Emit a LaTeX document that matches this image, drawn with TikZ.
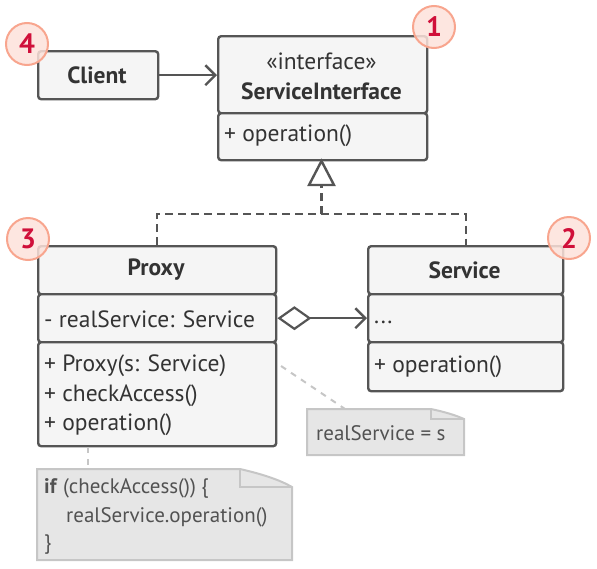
\documentclass[tikz,border=0pt]{standalone}
\usepackage{fontspec}
\setmainfont{PT Sans}
\usetikzlibrary{arrows.meta,positioning}
\definecolor{boxc}{HTML}{555555}
\definecolor{boxfill}{HTML}{F5F5F5}
\definecolor{txt}{HTML}{333333}
\definecolor{notefill}{HTML}{E6E6E6}
\definecolor{notec}{HTML}{C6C6C6}
\definecolor{badgefill}{HTML}{FDE2DA}
\definecolor{badgec}{HTML}{F8A58E}
\definecolor{badgetxt}{HTML}{D0103A}
\tikzset{
  sect/.style={draw=boxc, fill=boxfill, line width=2.4pt, rounded corners=3pt, inner sep=0pt},
  lbl/.style={inner sep=0pt, text=txt, font=\fontsize{23.5}{27}\selectfont},
  lbll/.style={lbl, anchor=west},
  title/.style={lbl, font=\fontsize{23.5}{27}\selectfont\bfseries},
  notetxt/.style={inner sep=0pt, anchor=west, text=txt!85, font=\fontsize{21}{25}\selectfont},
  conn/.style={draw=boxc, line width=2.4pt},
  dashline/.style={conn, dash pattern=on 8pt off 5pt},
  notebox/.style={draw=notec, fill=notefill, line width=2pt},
  notelink/.style={draw=notec, line width=2pt, dash pattern=on 6pt off 6pt},
  badge/.style={circle, draw=badgec, fill=badgefill, fill opacity=0.85, text opacity=1, line width=2pt, minimum size=42pt, inner sep=0pt, text=badgetxt, font=\fontsize{28}{32}\selectfont\bfseries},
}
\begin{document}
\begin{tikzpicture}[x=1pt,y=-1pt]
\useasboundingbox (0,0) rectangle (597,568);
% ServiceInterface
\node[sect, minimum width=209pt, minimum height=77pt, anchor=north west] (siH) at (217,35) {};
\node[sect, minimum width=209pt, minimum height=47pt, anchor=north west] (siB) at (217,112) {};
\node[lbl] (siS) at (321.5,61) {«interface»};
\node[title] (siT) at (321.5,91) {ServiceInterface};
\node[lbll] (siOp) at (224,136) {+ operation()};
% Client
\node[sect, minimum width=120pt, minimum height=48pt, anchor=north west] (client) at (37,50) {};
\node[title] (clientT) at (97,75) {Client};
% Proxy
\node[sect, minimum width=238pt, minimum height=48pt, anchor=north west] (pH) at (37,245) {};
\node[sect, minimum width=238pt, minimum height=48pt, anchor=north west] (pA) at (37,293) {};
\node[sect, minimum width=238pt, minimum height=104pt, anchor=north west] (pM) at (37,341) {};
\node[title] (pT) at (156,270) {Proxy};
\node[lbll] (pA1) at (44,319) {- realService: Service};
\node[lbll] (pM1) at (44,366) {+ Proxy(s: Service)};
\node[lbll] (pM2) at (44,396) {+ checkAccess()};
\node[lbll] (pM3) at (44,425) {+ operation()};
% Service
\node[sect, minimum width=195pt, minimum height=48pt, anchor=north west] (sH) at (367,245) {};
\node[sect, minimum width=195pt, minimum height=48pt, anchor=north west] (sA) at (367,293) {};
\node[sect, minimum width=195pt, minimum height=49pt, anchor=north west] (sM) at (367,341) {};
\node[title] (sT) at (464.5,270) {Service};
\node[lbll] (sA1) at (374,322) {...};
\node[lbll] (sM1) at (374,367) {+ operation()};
% connectors
\draw[conn, -{Straight Barb[length=10pt,width=20pt,line width=2.4pt]}] (client.east) -- (siH.west |- client.east);
\coordinate (junc) at (321.5,214);
\draw[dashline] (pH.north) |- (junc) -| (sH.north);
\draw[dashline] (junc) -- (321.5,186);
\draw[conn, fill=white, line join=miter] (321.5,161) -- (334,185) -- (309,185) -- cycle;
\draw[conn, {Diamond[open,length=34pt,width=24pt,line width=2.2pt]}-{Straight Barb[length=10pt,width=20pt,line width=2.4pt]}] (pA.east) -- (sA.west);
% notes
\coordinate (n1a) at (345,409);
\draw[notebox] (307,409) -- (431,409) .. controls (445,412) and (455,415) .. (464,419) -- (464,455) -- (307,455) -- cycle;
\draw[notebox, fill=none] (431,409) -- (431,419) -- (464,419);
\node[notetxt] (n1t) at (316,433) {realService = s};
\draw[notelink] (281,366) -- (n1a);
\coordinate (n2a) at (88,469);
\draw[notebox] (37,469) -- (240,469) .. controls (262,474) and (280,480) .. (292,487) -- (292,560) -- (37,560) -- cycle;
\draw[notebox, fill=none] (240,469) -- (240,487) -- (292,487);
\node[notetxt] (n2a1) at (44,488) {\textbf{if} (checkAccess()) \{};
\node[notetxt] (n2a2) at (66,517) {realService.operation()};
\node[notetxt] (n2a3) at (44,545) {\}};
\draw[notelink] (pM.south -| n2a) -- (n2a);
% badges
\node[badge] (b1) at (434,27) {1};
\node[badge] (b2) at (569,238) {2};
\node[badge] (b3) at (28,239) {3};
\node[badge] (b4) at (27,44) {4};
\end{tikzpicture}
\end{document}
